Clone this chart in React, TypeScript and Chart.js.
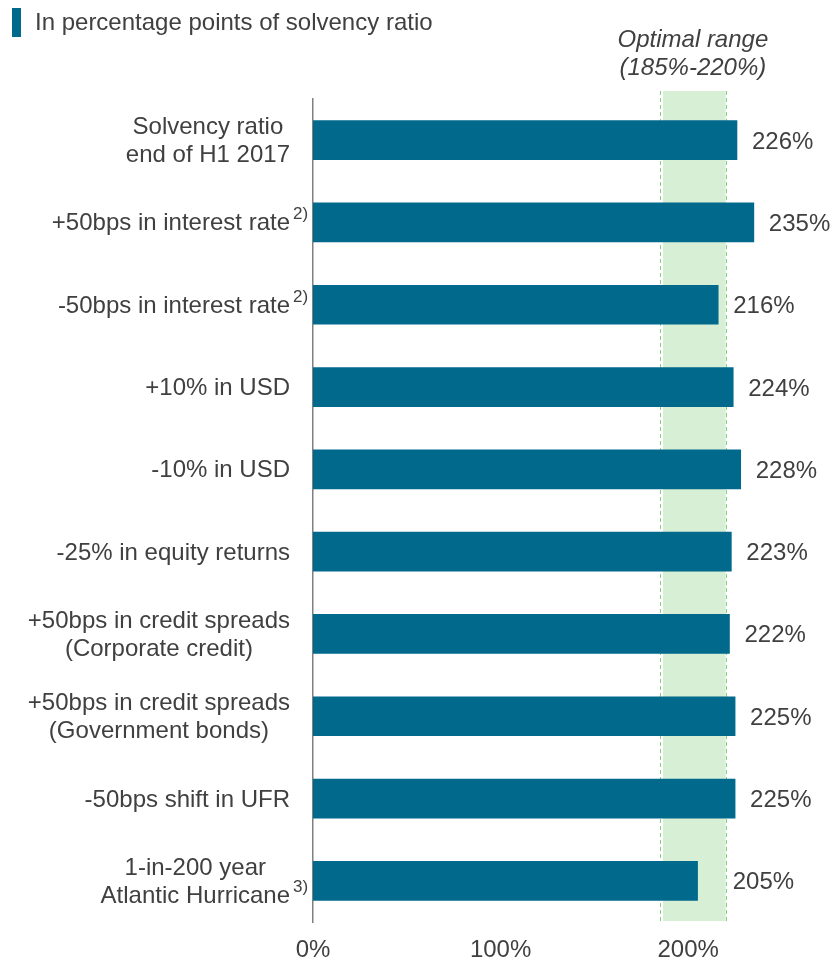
import React, { useEffect, useRef } from "react";
import { Chart, registerables } from "chart.js";

Chart.register(...registerables);

const title = "In percentage points of solvency ratio";
const rangeLabel = ["Optimal range", "(185%-220%)"];
const optimalRange = [185, 220];
const categories: string[][] = [
  ["Solvency ratio", "end of H1 2017"],
  ["+50bps in interest rate"],
  ["-50bps in interest rate"],
  ["+10% in USD"],
  ["-10% in USD"],
  ["-25% in equity returns"],
  ["+50bps in credit spreads", "(Corporate credit)"],
  ["+50bps in credit spreads", "(Government bonds)"],
  ["-50bps shift in UFR"],
  ["1-in-200 year", "Atlantic Hurricane"],
];
const footnotes = ["", "2)", "2)", "", "", "", "", "", "", "3)"];
const values = [226, 235, 216, 224, 228, 223, 222, 225, 225, 205];
const xTicks = [0, 100, 200];

const FONT_FAMILY = "'Liberation Sans', Arial, Helvetica, sans-serif";
const FS = 24;
const TEXT = "#404040";
const BAR = "#00698C";

const overlayPlugin = {
  id: "overlay",
  beforeDatasetsDraw(chart: any) {
    const { ctx, chartArea } = chart;
    const x = chart.scales.x;
    const x1 = x.getPixelForValue(optimalRange[0]);
    const x2 = x.getPixelForValue(optimalRange[1]);
    const top = chartArea.top - 8;
    const bottom = chartArea.bottom - 1;
    ctx.save();
    ctx.fillStyle = "#d7efd5";
    ctx.fillRect(x1 + 3, top, x2 - x1 - 3, bottom - top);
    ctx.strokeStyle = "#86cf86";
    ctx.lineWidth = 1;
    ctx.setLineDash([4, 3]);
    [x1, x2].forEach((px) => {
      ctx.beginPath();
      ctx.moveTo(Math.round(px) + 0.5, top);
      ctx.lineTo(Math.round(px) + 0.5, bottom);
      ctx.stroke();
    });
    ctx.restore();
  },
  afterDraw(chart: any) {
    const { ctx } = chart;
    const x = chart.scales.x;
    const y = chart.scales.y;
    ctx.save();
    // title
    ctx.fillStyle = BAR;
    ctx.fillRect(12, 8, 9, 29);
    ctx.fillStyle = TEXT;
    ctx.font = `${FS}px ${FONT_FAMILY}`;
    ctx.textAlign = "left";
    ctx.textBaseline = "alphabetic";
    ctx.fillText(title, 35, 30);

    // optimal range label
    const cx = (x.getPixelForValue(optimalRange[0]) + x.getPixelForValue(optimalRange[1])) / 2;
    ctx.font = `italic ${FS}px ${FONT_FAMILY}`;
    ctx.textAlign = "center";
    ctx.fillText(rangeLabel[0], cx, 47);
    ctx.fillText(rangeLabel[1], cx, 75);

    // category labels
    const R = 290;
    categories.forEach((lines, i) => {
      const yc = y.getPixelForValue(i);
      ctx.font = `${FS}px ${FONT_FAMILY}`;
      const widths = lines.map((l) => ctx.measureText(l).width);
      const W = Math.max(...widths);
      const bx = R - W / 2;
      ctx.textAlign = "center";
      lines.forEach((l, j) => {
        const by = yc + 8 + (j - (lines.length - 1) / 2) * 28;
        ctx.fillText(l, bx, by);
      });
      if (footnotes[i]) {
        const lastBy = yc + 8 + ((lines.length - 1) / 2) * 28;
        ctx.font = `17px ${FONT_FAMILY}`;
        ctx.textAlign = "left";
        ctx.fillText(footnotes[i], R + 3, lastBy - 11);
      }
    });

    // value labels
    ctx.font = `${FS}px ${FONT_FAMILY}`;
    ctx.textAlign = "left";
    const minX = x.getPixelForValue(optimalRange[1]) + 7;
    values.forEach((v, i) => {
      const yc = y.getPixelForValue(i);
      const end = x.getPixelForValue(v);
      const lx = Math.max(end + 15, minX);
      ctx.fillText(`${v}%`, lx, yc + 8.5);
    });
    ctx.restore();
  },
};

export default function App() {
  const ref = useRef<HTMLCanvasElement | null>(null);
  useEffect(() => {
    if (!ref.current) return;
    const chart = new Chart(ref.current, {
      type: "bar",
      data: {
        labels: categories.map((c) => c.join(" ")),
        datasets: [
          {
            data: values,
            backgroundColor: BAR,
            borderWidth: 0,
            barThickness: 39,
          },
        ],
      },
      options: {
        indexAxis: "y",
        animation: false,
        responsive: true,
        maintainAspectRatio: false,
        layout: { padding: { top: 99, right: 53, left: 0, bottom: 0 } },
        plugins: {
          legend: { display: false },
          tooltip: { enabled: false },
          title: { display: false },
        },
        scales: {
          x: {
            min: 0,
            max: 250,
            grid: { display: false, drawTicks: false },
            border: { display: false },
            afterBuildTicks: (scale: any) => {
              scale.ticks = xTicks.map((v) => ({ value: v }));
            },
            afterFit: (scale: any) => {
              scale.height = 38;
            },
            ticks: {
              padding: 14,
              color: TEXT,
              font: { family: FONT_FAMILY, size: FS },
              maxRotation: 0,
              callback: (v: any) => `${v}%`,
            },
          },
          y: {
            grid: { display: false, drawTicks: false },
            border: { display: true, color: "#808080", width: 1.5 },
            ticks: { display: false },
            afterFit: (scale: any) => {
              scale.width = 313;
            },
          },
        },
      },
      plugins: [overlayPlugin],
    });
    return () => chart.destroy();
  }, []);
  return (
    <div style={{ position: "absolute", left: 0, top: 0, width: 835, height: 960, background: "#fff" }}>
      <canvas ref={ref} />
    </div>
  );
}
